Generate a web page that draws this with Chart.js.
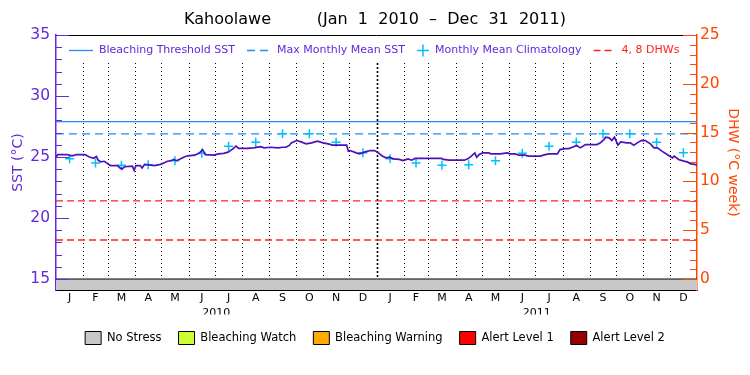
<!DOCTYPE html>
<html>
<head>
<meta charset="utf-8">
<script src="https://cdn.jsdelivr.net/npm/chart.js@4.4.0/dist/chart.umd.min.js"></script>
<style>
  html, body { margin: 0; padding: 0; background: #fff; }
  #wrap { width: 750px; height: 375px; }
</style>
</head>
<body>
<div id="wrap"><canvas id="myChart"></canvas></div>
<script>
// day 0 = Jan 1 2010
var monthDays = [31, 28, 31, 30, 31, 30, 31, 31, 30, 31, 30, 31,
                 31, 28, 31, 30, 31, 30, 31, 31, 30, 31, 30, 31];
var monthLetters = ['J', 'F', 'M', 'A', 'M', 'J', 'J', 'A', 'S', 'O', 'N', 'D',
                    'J', 'F', 'M', 'A', 'M', 'J', 'J', 'A', 'S', 'O', 'N', 'D'];
var yearLabels = ['2010', '2011'];
var yearMids = [182.5, 547.5];

var sstDays = [
  0, 2, 13, 16, 20, 23, 33, 38, 43, 46,
  48, 51, 55, 58, 62, 70, 73, 75, 78, 87,
  89, 91, 96, 98, 101, 106, 112, 119, 124, 127,
  131, 134, 137, 142, 146, 150, 158, 163, 167, 170,
  180, 185, 191, 196, 201, 205, 208, 218, 225, 233,
  237, 244, 253, 258, 262, 266, 268, 274, 279, 285,
  291, 298, 304, 310, 315, 331, 333, 335, 342, 346,
  352, 358, 363, 367, 372, 376, 380, 384, 391, 395,
  401, 405, 409, 439, 441, 448, 465, 469, 473, 477,
  479, 482, 486, 493, 495, 506, 510, 514, 517, 523,
  527, 534, 538, 552, 555, 561, 571, 574, 580, 584,
  588, 593, 597, 603, 616, 620, 624, 626, 630, 633,
  636, 640, 643, 650, 654, 658, 662, 667, 671, 677,
  681, 685, 690, 696, 702, 704, 709, 715, 719, 723,
  727, 730
];
var sstValues = [
  25.0, 25.2, 25.2, 25.12, 25.12, 25.2, 25.2, 25.0, 24.9, 25.05,
  24.75, 24.6, 24.65, 24.5, 24.3, 24.3, 24.1, 24.0, 24.2, 24.25,
  23.9, 24.3, 24.3, 24.1, 24.4, 24.35, 24.3, 24.4, 24.55, 24.65,
  24.7, 24.8, 24.7, 24.85, 25.0, 25.1, 25.15, 25.3, 25.6, 25.2,
  25.15, 25.25, 25.3, 25.4, 25.65, 25.9, 25.7, 25.7, 25.75, 25.85,
  25.75, 25.8, 25.75, 25.8, 25.8, 25.97, 26.16, 26.35, 26.24, 26.08,
  26.16, 26.3, 26.16, 26.08, 25.97, 25.97, 25.48, 25.53, 25.34, 25.26,
  25.42, 25.53, 25.53, 25.34, 25.07, 24.93, 24.98, 24.85, 24.8, 24.71,
  24.85, 24.74, 24.88, 24.88, 24.8, 24.74, 24.74, 24.85, 25.07, 25.34,
  24.98, 25.2, 25.34, 25.34, 25.26, 25.26, 25.3, 25.34, 25.26, 25.26,
  25.15, 25.15, 25.07, 25.07, 25.15, 25.26, 25.26, 25.61, 25.69, 25.69,
  25.8, 25.94, 25.75, 26.02, 26.02, 26.16, 26.43, 26.62, 26.57, 26.35,
  26.62, 25.97, 26.24, 26.16, 26.16, 25.97, 26.16, 26.37, 26.35, 26.08,
  25.75, 25.75, 25.48, 25.2, 24.93, 25.07, 24.8, 24.66, 24.6, 24.44,
  24.39, 24.35
];

// monthly mean climatology, Jan..Dec
var climatology = [24.85, 24.5, 24.33, 24.36, 24.7, 25.3, 25.88, 26.2, 26.9, 26.9, 26.2, 25.35];

var bleachingThreshold = 27.9;
var maxMonthlyMean = 26.9;
var dhwLevels = [4, 8];

var stressNames = ['No Stress', 'Bleaching Watch', 'Bleaching Warning', 'Alert Level 1', 'Alert Level 2'];
var stressColors = ['#c8c8c8', '#ccff33', '#ffaa00', '#ff0000', '#960000'];
var stressDays = [0, 730];
var stressLevel = [0, 0];

var sstTicks = [15, 20, 25, 30, 35];
var dhwTicks = [0, 5, 10, 15, 20, 25];

var monthStarts = [0];
monthDays.forEach(function (d, i) { monthStarts.push(monthStarts[i] + d); });
var monthMids = monthDays.map(function (d, i) { return monthStarts[i] + d / 2; });

var FONT = "'DejaVu Sans', sans-serif";
var purple = '#6428dc';
var sstColor = '#4f10b8';
var orange = '#ff4600';
var blue = '#1e8cff';
var cyan = '#00c0ff';
var red = '#ff2020';

function flat(v) {
  return [{ x: 0, y: v }, { x: 730, y: v }];
}
function intRange(a, b) {
  var out = [];
  for (var v = a; v <= b; v++) out.push({ value: v });
  return out;
}

var datasets = [
  {
    label: 'SST',
    data: sstDays.map(function (d, i) { return { x: d, y: sstValues[i] }; }),
    yAxisID: 'y', borderColor: sstColor, borderWidth: 1.7, pointRadius: 0
  },
  {
    label: 'Monthly Mean Climatology',
    data: monthMids.map(function (m, i) { return { x: m, y: climatology[i % 12] }; }),
    yAxisID: 'y', showLine: false, pointStyle: 'cross', pointRadius: 4.5,
    borderColor: cyan, borderWidth: 1.5
  },
  {
    label: 'Bleaching Threshold SST', data: flat(bleachingThreshold),
    yAxisID: 'y', borderColor: blue, borderWidth: 1.3, pointRadius: 0
  },
  {
    label: 'Max Monthly Mean SST', data: flat(maxMonthlyMean),
    yAxisID: 'y', borderColor: blue, borderWidth: 1.3, borderDash: [8, 5], pointRadius: 0
  }
];
dhwLevels.forEach(function (lvl) {
  datasets.push({
    label: lvl + ' DHW', data: flat(lvl),
    yAxisID: 'yR', borderColor: red, borderWidth: 1.3, borderDash: [7, 4], pointRadius: 0
  });
});
var firstStress = datasets.length;
stressNames.forEach(function (name, k) {
  var pts = [];
  stressDays.forEach(function (d, i) {
    if (stressLevel[i] === k) pts.push({ x: d, y: sstTicks[0] });
  });
  datasets.push({
    label: name, data: pts, yAxisID: 'y',
    backgroundColor: stressColors[k], borderColor: '#000', borderWidth: 1,
    fill: 'start', pointRadius: 0
  });
});

var topLegendItems = [
  { kind: 'line', color: blue, dash: [], text: 'Bleaching Threshold SST', textColor: purple, w: 24 },
  { kind: 'line', color: blue, dash: [8, 5], text: 'Max Monthly Mean SST', textColor: purple, w: 24 },
  { kind: 'plus', color: cyan, text: 'Monthly Mean Climatology', textColor: purple, w: 12 },
  { kind: 'line', color: red, dash: [7, 4], text: '4, 8 DHWs', textColor: red, w: 22 }
];

var decorations = {
  id: 'decorations',
  beforeDatasetsDraw: function (chart) {
    var ctx = chart.ctx, a = chart.chartArea;
    var xs = chart.scales.x, ys = chart.scales.y;
    var bottom = ys.getPixelForValue(sstTicks[0]);
    ctx.save();
    ctx.strokeStyle = '#000';
    for (var i = 1; i < monthStarts.length - 1; i++) {
      var px = Math.round(xs.getPixelForValue(monthStarts[i])) + 0.5;
      var yearLine = (i === 12);
      ctx.lineWidth = yearLine ? 1.6 : 1;
      ctx.setLineDash(yearLine ? [2, 2] : [1, 3]);
      ctx.beginPath();
      ctx.moveTo(px, a.top + 28);
      ctx.lineTo(px, bottom);
      ctx.stroke();
    }
    ctx.restore();
  },
  afterDraw: function (chart) {
    var ctx = chart.ctx, a = chart.chartArea;
    var yl = chart.scales.y, yr = chart.scales.yR;
    ctx.save();
    // top frame
    ctx.strokeStyle = '#000';
    ctx.lineWidth = 1;
    ctx.beginPath();
    ctx.moveTo(a.left, a.top + 0.5);
    ctx.lineTo(a.right, a.top + 0.5);
    ctx.stroke();
    // inward ticks
    ctx.strokeStyle = purple;
    yl.ticks.forEach(function (t) {
      var py = Math.round(yl.getPixelForValue(t.value)) + 0.5;
      var len = t.value % 5 === 0 ? 13 : 6;
      ctx.beginPath();
      ctx.moveTo(a.left, py);
      ctx.lineTo(a.left + len, py);
      ctx.stroke();
    });
    ctx.strokeStyle = orange;
    yr.ticks.forEach(function (t) {
      var py = Math.round(yr.getPixelForValue(t.value)) + 0.5;
      var len = t.value % 5 === 0 ? 14 : 7;
      ctx.beginPath();
      ctx.moveTo(a.right, py);
      ctx.lineTo(a.right - len, py);
      ctx.stroke();
    });
    // legend inside plot
    ctx.font = '11px ' + FONT;
    ctx.textBaseline = 'middle';
    var y = a.top + 15.5;
    var x = a.left + 13;
    topLegendItems.forEach(function (it) {
      ctx.strokeStyle = it.color;
      ctx.lineWidth = 1.3;
      if (it.kind === 'line') {
        ctx.setLineDash(it.dash);
        ctx.beginPath();
        ctx.moveTo(x, y);
        ctx.lineTo(x + it.w, y);
        ctx.stroke();
        ctx.setLineDash([]);
      } else {
        ctx.lineWidth = 1.5;
        ctx.beginPath();
        ctx.moveTo(x, y);
        ctx.lineTo(x + it.w, y);
        ctx.moveTo(x + it.w / 2, y - 6);
        ctx.lineTo(x + it.w / 2, y + 6);
        ctx.stroke();
      }
      x += it.w + 6;
      ctx.fillStyle = it.textColor;
      ctx.fillText(it.text, x, y);
      x += ctx.measureText(it.text).width + 12;
    });
    ctx.restore();
  }
};

var ctx = document.getElementById('myChart').getContext('2d');
var myChart = new Chart(ctx, {
  type: 'line',
  data: { datasets: datasets },
  plugins: [decorations],
  options: {
    responsive: true,
    maintainAspectRatio: false,
    animation: false,
    layout: { padding: { bottom: 20.5 } },
    plugins: {
      tooltip: { enabled: false },
      title: {
        display: true,
        text: 'Kahoolawe         (Jan  1  2010  \u2013  Dec  31  2011)',
        color: '#000',
        font: { family: FONT, size: 16, weight: 'normal', lineHeight: 1.1 },
        padding: { top: 11.5, bottom: 5.9 }
      },
      legend: {
        display: true,
        position: 'bottom',
        labels: {
          filter: function (item) { return item.datasetIndex >= firstStress; },
          boxWidth: 16,
          boxHeight: 13,
          padding: 17,
          color: '#000',
          font: { family: FONT, size: 11.5 }
        }
      }
    },
    scales: {
      x: {
        type: 'linear', position: 'bottom', min: 0, max: 730, weight: 0,
        afterBuildTicks: function (s) { s.ticks = monthMids.map(function (m) { return { value: m }; }); },
        afterFit: function (s) { s.height = 14; },
        grid: { display: false, drawTicks: false, tickLength: 0 },
        border: { display: true, color: '#000', width: 1 },
        ticks: {
          autoSkip: false, maxRotation: 0, padding: 3, color: '#000',
          font: { family: FONT, size: 11, lineHeight: 1 },
          callback: function (v, i) { return monthLetters[i]; }
        }
      },
      year: {
        axis: 'x', type: 'linear', position: 'bottom', min: 0, max: 730, weight: 1,
        afterBuildTicks: function (s) { s.ticks = yearMids.map(function (m) { return { value: m }; }); },
        afterFit: function (s) { s.height = 10.5; },
        grid: { display: false, drawTicks: false, tickLength: 0 },
        border: { display: false },
        ticks: {
          autoSkip: false, maxRotation: 0, padding: 4, color: '#000',
          font: { family: FONT, size: 11, lineHeight: 1 },
          callback: function (v, i) { return yearLabels[i]; }
        }
      },
      y: {
        type: 'linear', position: 'left', min: 14.1, max: 35,
        afterBuildTicks: function (s) { s.ticks = intRange(sstTicks[0], sstTicks[sstTicks.length - 1]); },
        afterFit: function (s) { s.width = 56; },
        grid: { display: false, drawTicks: false, tickLength: 0 },
        border: { display: true, color: purple, width: 1.5 },
        title: {
          display: true, text: 'SST (\u00b0C)', color: purple,
          font: { family: FONT, size: 14 }, padding: { top: 10, bottom: 0 }
        },
        ticks: {
          padding: 6, color: purple, autoSkip: false,
          font: { family: FONT, size: 15.5 },
          callback: function (v) { return sstTicks.indexOf(v) >= 0 ? v : ''; }
        }
      },
      yR: {
        axis: 'y', type: 'linear', position: 'right', min: -1.12, max: 25,
        afterBuildTicks: function (s) { s.ticks = intRange(dhwTicks[0], dhwTicks[dhwTicks.length - 1]); },
        afterFit: function (s) { s.width = 53; },
        grid: { display: false, drawTicks: false, tickLength: 0 },
        border: { display: true, color: orange, width: 1.5 },
        title: {
          display: true, text: 'DHW (\u00b0C week)', color: orange,
          font: { family: FONT, size: 14 }, padding: { top: 8.5, bottom: 0 }
        },
        ticks: {
          padding: 3, color: orange, autoSkip: false,
          font: { family: FONT, size: 15.5 },
          callback: function (v) { return dhwTicks.indexOf(v) >= 0 ? v : ''; }
        }
      }
    }
  }
});
</script>
</body>
</html>
